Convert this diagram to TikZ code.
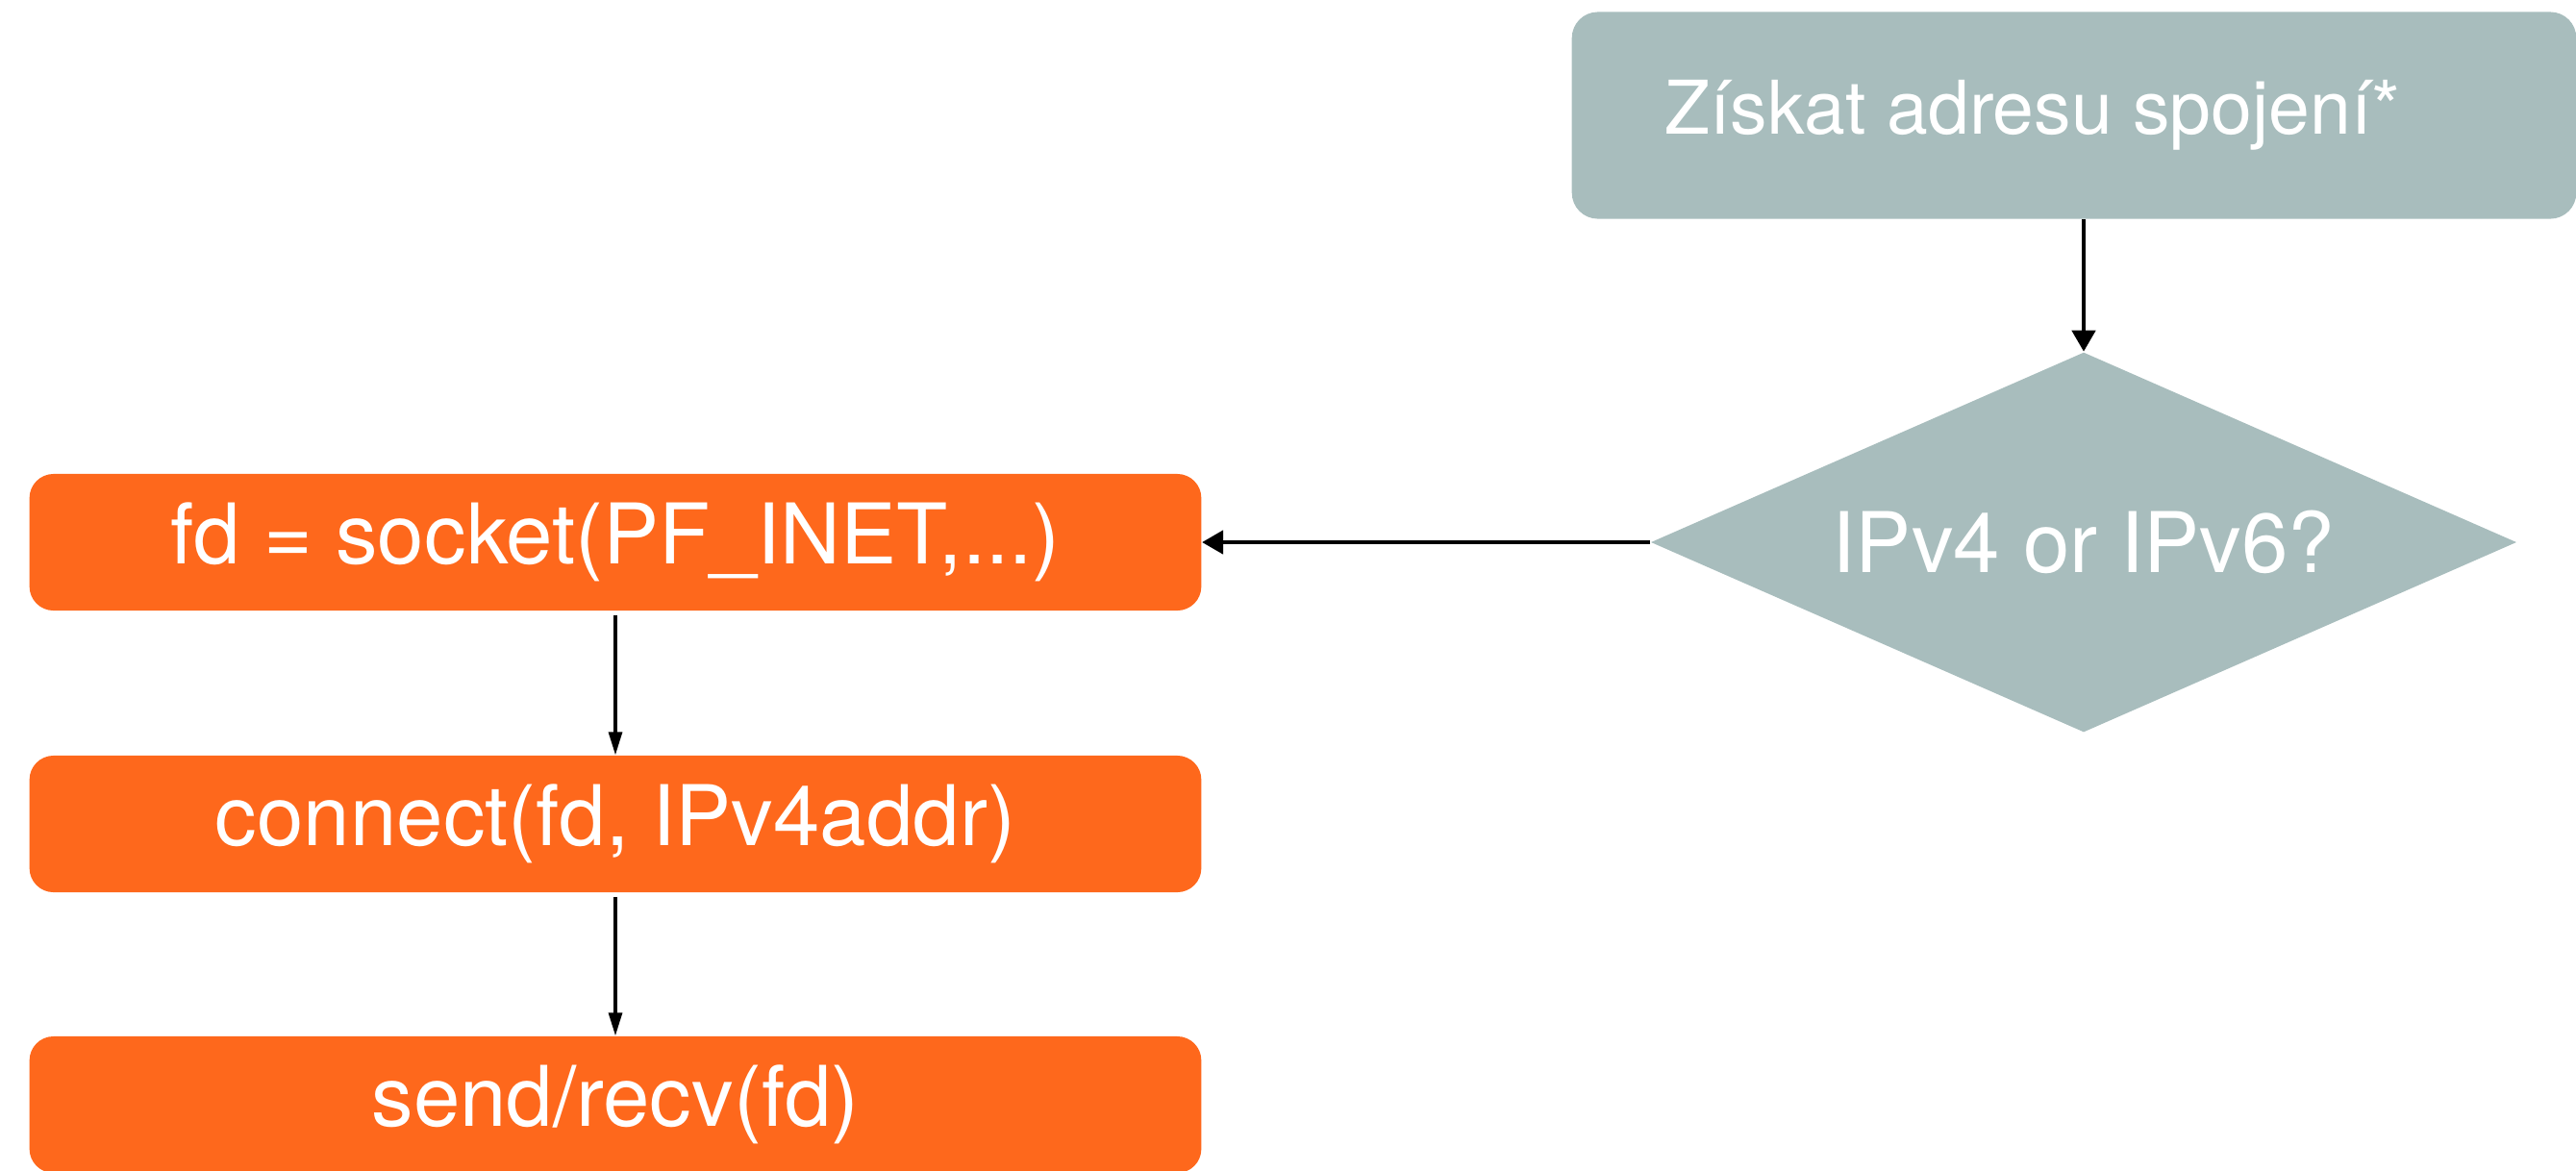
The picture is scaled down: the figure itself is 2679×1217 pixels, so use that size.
\documentclass[tikz,border=0pt]{standalone}
\usepackage{fontspec}
\setmainfont{TeX Gyre Heros}
\usetikzlibrary{shapes.geometric,arrows.meta}
\definecolor{boxorange}{RGB}{254,104,28}
\definecolor{boxgrey}{RGB}{168,189,189}
\begin{document}
\begin{tikzpicture}[x=0.01cm,y=-0.01cm,
    stepbox/.style={rectangle,rounded corners=0.25cm,fill=boxorange,text=white,
        minimum width=12.18cm,minimum height=1.42cm,inner sep=0pt,
        font=\fontsize{24.75}{30}\selectfont},
    greybox/.style={rectangle,rounded corners=0.27cm,fill=boxgrey,text=white,
        inner sep=0pt,font=\fontsize{21.9}{26}\selectfont},
    decision/.style={diamond,aspect=2.28,fill=boxgrey,text=white,inner sep=0pt,
        minimum width=9cm,minimum height=3.95cm,
        font=\fontsize{24.75}{30}\selectfont},
    flowarrow/.style={-{Triangle[length=0.22cm,width=0.24cm]},line width=1.3pt},
    thinarrow/.style={-{Triangle[length=0.24cm,width=0.14cm]},line width=0.9pt}]

    \useasboundingbox (0,0) rectangle (2679,1217);

    % right hand side: address and decision
    \node[greybox,minimum width=10.44cm,minimum height=2.15cm] (addr) at (2157,120)
        {\hspace*{-0.86cm}\raisebox{-0.08cm}{Získat adresu spojení*}};
    \node[decision] (ipver) at (2167,564) {IPv4 or IPv6?};

    % left hand side: IPv4 calls
    \node[stepbox] (sock) at (640,564) {fd = socket(PF\_INET,...)};
    \node[stepbox] (conn) at (640,857) {connect(fd, IPv4addr)};
    \node[stepbox] (sendrecv) at (640,1149) {send/recv(fd)};

    \draw[flowarrow] (addr.south -| ipver.north) -- (ipver.north);
    \draw[flowarrow] (ipver.west) -- (ipver.west -| sock.east);
    \draw[thinarrow] ([yshift=-0.04cm]sock.south) -- (conn.north);
    \draw[thinarrow] ([yshift=-0.04cm]conn.south) -- (sendrecv.north);
\end{tikzpicture}
\end{document}
